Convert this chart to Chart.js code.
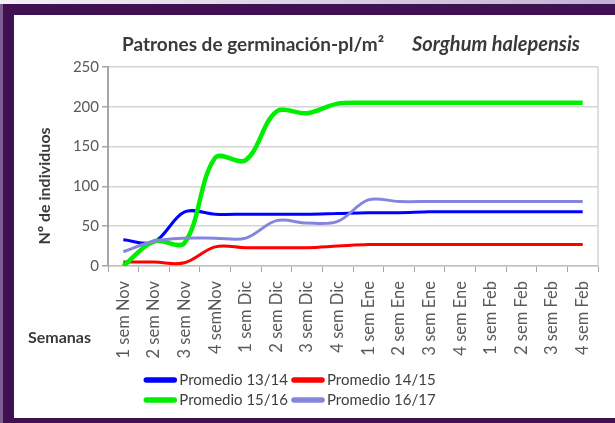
<!DOCTYPE html>
<html>
<head>
<meta charset="utf-8">
<script src="https://cdn.jsdelivr.net/npm/chart.js@4"></script>
<style>
  body { margin: 0; width: 615px; height: 423px; background: #3f1152; position: relative; overflow: hidden; }
  #franja { position: absolute; left: 0; top: 0; width: 615px; height: 4px; background: linear-gradient(to right, #f3f1f6, #c2b2d3); }
  #borde { position: absolute; left: 0; top: 4px; width: 3px; height: 419px; background: #7d5f92; }
  #panel { position: absolute; left: 14px; top: 15px; width: 601px; height: 403px; background: #fff; }
</style>
</head>
<body>
<div id="franja"></div>
<div id="borde"></div>
<div id="panel"><canvas id="miGrafica" width="601" height="403"></canvas></div>
<script>
// semanas (eje x)
var semanas = ["1 sem Nov", "2 sem Nov", "3 sem Nov", "4 semNov",
    "1 sem Dic", "2 sem Dic", "3 sem Dic", "4 sem Dic",
    "1 sem Ene", "2 sem Ene", "3 sem Ene", "4 sem Ene",
    "1 sem Feb", "2 sem Feb", "3 sem Feb", "4 sem Feb"]

// plantas por m2 de cada campaña
var prom_13_14 = [33, 30, 68, 65, 65, 65, 65, 66, 67, 67, 68, 68, 68, 68, 68, 68]
var prom_14_15 = [5, 5, 4, 24, 23, 23, 23, 25, 27, 27, 27, 27, 27, 27, 27, 27]
var prom_15_16 = [0, 31, 29, 136, 133, 194, 192, 204, 205, 205, 205, 205, 205, 205, 205, 205]
var prom_16_17 = [18, 31, 35, 35, 35, 57, 54, 56, 83, 81, 81, 81, 81, 81, 81, 81]

var etiquetas = ["Promedio 13/14", "Promedio 14/15", "Promedio 15/16", "Promedio 16/17"]
var colores = ["#0000ff", "#ff0000", "#00ee00", "#8585e0"]

var yTicks = [0, 50, 100, 150, 200, 250]

var fuente = "Lato, 'Open Sans', sans-serif"

// textos y leyenda dibujados a mano
var textos = {
    id: 'textos',
    beforeDatasetsDraw(chart) {
        var ctx = chart.ctx
        var a = chart.chartArea
        ctx.save()
        ctx.strokeStyle = '#d4d4d4'
        ctx.lineWidth = 1.5
        ctx.beginPath()
        ctx.moveTo(a.right, a.top)
        ctx.lineTo(a.right, a.bottom)
        ctx.stroke()
        ctx.restore()
    },
    afterDraw(chart) {
        var ctx = chart.ctx
        ctx.save()
        ctx.fillStyle = '#3a3a3a'
        ctx.textBaseline = 'middle'
        ctx.textAlign = 'left'
        ctx.font = "bold 19px " + fuente
        ctx.fillText("Patrones de germinación-pl/m²", 108, 30)
        ctx.font = "italic bold 20px " + fuente
        ctx.fillText("Sorghum halepensis", 398, 30)

        ctx.font = "bold 16px " + fuente
        ctx.fillText("Semanas", 14, 323)

        ctx.save()
        ctx.translate(31, 171)
        ctx.rotate(-Math.PI / 2)
        ctx.textAlign = 'center'
        ctx.fillText("Nº de individuos", 0, 0)
        ctx.restore()

        // leyenda en dos filas
        ctx.font = "15px " + fuente
        ctx.fillStyle = '#404040'
        var muestra = 32
        var ds = chart.data.datasets
        for (var fila = 0; fila < 2; fila++) {
            var items = [ds[fila * 2], ds[fila * 2 + 1]]
            var total = 0
            items.forEach(function (d) { total += muestra + 3 + ctx.measureText(d.label).width + 4 })
            var x = 278 - total / 2
            var y = 365 + fila * 20
            items.forEach(function (d) {
                ctx.strokeStyle = d.borderColor
                ctx.lineWidth = 5.5
                ctx.lineCap = 'round'
                ctx.beginPath()
                ctx.moveTo(x + 2, y)
                ctx.lineTo(x + muestra - 2, y)
                ctx.stroke()
                x += muestra + 3
                ctx.fillText(d.label, x, y)
                x += ctx.measureText(d.label).width + 4
            })
        }
        ctx.restore()
    }
}

var series = [prom_13_14, prom_14_15, prom_15_16, prom_16_17]
var grosores = [3, 3, 4.5, 3]
var ordenes = [4, 3, 2, 1]

new Chart("miGrafica", {
    type: "line",
    data: {
        labels: semanas,
        datasets: series.map(function (s, i) {
            return {
                label: etiquetas[i],
                data: s,
                borderColor: colores[i],
                backgroundColor: colores[i],
                borderWidth: grosores[i],
                pointRadius: 0,
                tension: 0.35,
                order: ordenes[i]
            }
        })
    },
    options: {
        responsive: false,
        animation: false,
        layout: { padding: { left: 0, right: 17, top: 52, bottom: 0 } },
        plugins: {
            legend: { display: false },
            title: { display: false },
            tooltip: { enabled: false }
        },
        scales: {
            x: {
                offset: true,
                afterFit: function (scale) { scale.height = 152 },
                grid: { offset: true, drawOnChartArea: false, tickLength: 6, color: '#a6a6a6' },
                border: { color: '#bfbfbf', width: 1.5 },
                ticks: {
                    autoSkip: false, minRotation: 90, maxRotation: 90, padding: 9,
                    color: '#595959', font: { family: fuente, size: 16.5 }
                }
            },
            y: {
                min: 0,
                max: 250,
                afterFit: function (scale) { scale.width = 94 },
                afterBuildTicks: function (scale) { scale.ticks = yTicks.map(function (v) { return { value: v } }) },
                grid: { color: '#d4d4d4', lineWidth: 1.5, tickLength: 6, tickColor: '#a6a6a6' },
                border: { color: '#a6a6a6', width: 2 },
                ticks: { padding: 3, color: '#595959', font: { family: fuente, size: 15 } }
            }
        }
    },
    plugins: [textos]
})
</script>
</body>
</html>
